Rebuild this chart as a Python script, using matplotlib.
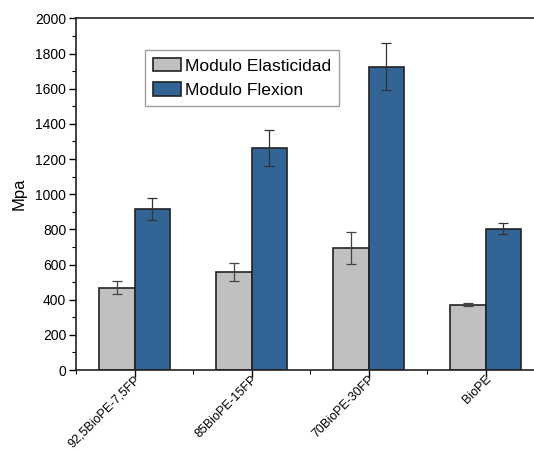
import matplotlib
matplotlib.use("Agg")
import matplotlib.pyplot as plt
import numpy as np
from matplotlib.ticker import MultipleLocator, FixedLocator

plt.rcParams['font.family'] = ['Liberation Sans', 'DejaVu Sans']

categories = ["92,5BioPE-7,5FP", "85BioPE-15FP", "70BioPE-30FP", "BioPE"]
elasticidad = [468, 560, 695, 372]
elasticidad_err = [37, 51, 90, 10]
flexion = [918, 1264, 1725, 803]
flexion_err = [63, 103, 135, 31]

fig = plt.figure(figsize=(5.34, 4.51), dpi=100)
ax = fig.add_axes([76/534, 1 - 370/451, 468/534, (370-18.4)/451])

x = np.arange(1, len(categories) + 1)
w = 0.305
ax.bar(x - w/2, elasticidad, w, color='#c0c0c0', edgecolor='#222222', linewidth=1.2,
       label='Modulo Elasticidad', zorder=2)
ax.bar(x + w/2, flexion, w, color='#336496', edgecolor='#222222', linewidth=1.2,
       label='Modulo Flexion', zorder=2)
ax.errorbar(x - w/2, elasticidad, yerr=elasticidad_err, fmt='none', ecolor='#444444',
            elinewidth=0.9, capsize=3.5, capthick=0.9, zorder=3)
ax.errorbar(x + w/2, flexion, yerr=flexion_err, fmt='none', ecolor='#333333',
            elinewidth=0.9, capsize=3.5, capthick=0.9, zorder=3)

ax.set_xlim(0.5, 4.5)
ax.set_ylim(0, 2000)
ax.set_xticks(x)
ax.set_xticklabels(categories, rotation=45, ha='right', rotation_mode='anchor', fontsize=9.0)
ax.xaxis.set_minor_locator(FixedLocator([0.5, 1.5, 2.5, 3.5, 4.5]))
ax.yaxis.set_major_locator(MultipleLocator(200))
ax.yaxis.set_minor_locator(MultipleLocator(100))
ax.tick_params(axis='y', which='major', direction='out', length=5, width=1, labelsize=10, pad=2)
ax.tick_params(axis='y', which='minor', direction='out', length=3, width=0.8)
ax.tick_params(axis='x', which='major', direction='out', length=5, width=1, pad=-2.5)
ax.tick_params(axis='x', which='minor', direction='out', length=3, width=0.8)
for s in ax.spines.values():
    s.set_linewidth(1.2)
    s.set_color('#222222')
ax.spines['right'].set_visible(False)

ax.set_ylabel('Mpa', fontsize=12, labelpad=6)

leg = ax.legend(loc='upper left', bbox_to_anchor=((145-76)/468, (370-50)/351.6),
                fontsize=12.6, frameon=True, fancybox=False, handlelength=1.6,
                handleheight=0.8, handletextpad=0.25, borderpad=0.45, labelspacing=0.5,
                borderaxespad=0)
leg.get_frame().set_edgecolor('#888888')
leg.get_frame().set_linewidth(1)

fig.savefig('out.png', dpi=100)
